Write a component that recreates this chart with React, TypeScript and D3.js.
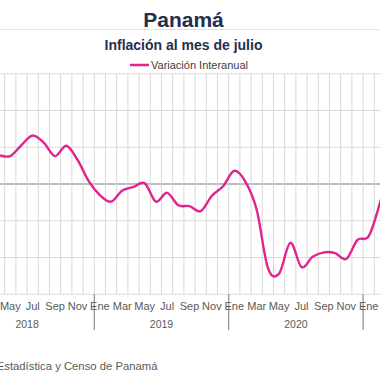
import React from "react";
import * as d3 from "d3";

const W = 380;
const H = 380;

// months from Jan 2018 (index 0)
const monthNames = ["Ene", "Feb", "Mar", "Abr", "May", "Jun", "Jul", "Ago", "Sep", "Oct", "Nov", "Dic"];
const years = [2018, 2019, 2020, 2021];
const firstDataIndex = 2; // Mar 2018
const values = [
  0.42, 0.39, 0.38, 0.53, 0.66, 0.56, 0.38, 0.52, 0.33, 0.04,
  -0.15, -0.24, -0.09, -0.04, 0.01, -0.24, -0.12, -0.29, -0.3, -0.37, -0.16, -0.03,
  0.18, 0.03, -0.35, -1.14, -1.22, -0.8, -1.13, -0.99, -0.93, -0.94, -1.02, -0.76,
  -0.71, -0.26, 0.33,
];
const yTicks = [-1.5, -1, -0.5, 0, 0.5, 1, 1.5];
const title = "Panamá";
const subtitle = "Inflación al mes de julio";
const legendLabel = "Variación Interanual";
const sourceText = "Estadística y Censo de Panamá";

const nMonths = years.length * 12;
const monthIdx = d3.range(nMonths);

export default function App() {
  const x = d3
    .scaleBand<number>()
    .domain(monthIdx)
    .range([-40.1, -40.1 + nMonths * 11.2])
    .paddingInner(0)
    .paddingOuter(0);
  const bw = x.bandwidth();
  const y = d3.scaleLinear().domain([-1.5, 1.5]).range([294.25, 73.75]);

  const pts: [number, number][] = values.map((v, i) => [
    (x(i + firstDataIndex) as number) + bw / 2,
    y(v),
  ]);
  const line = d3.line().curve(d3.curveCardinal.tension(0))(pts) || "";

  const font = "'Liberation Sans', Arial, sans-serif";
  const plotTop = y(1.5);
  const plotBottom = y(-1.5);
  const visible = (cx: number) => cx > 0 && cx < W;

  return (
    <svg
      width={W}
      height={H}
      style={{ position: "absolute", left: 0, top: 0, background: "#fff" }}
      fontFamily={font}
    >
      <rect x={0} y={0} width={W} height={H} fill="#fff" />
      <text x={183.5} y={26.5} textAnchor="middle" fontSize={21} fontWeight="bold" fill="#1f2f4d">
        {title}
      </text>
      <line x1={0} x2={W} y1={29.5} y2={29.5} stroke="#e3e3e3" strokeWidth={1} />
      <text x={183.5} y={49.5} textAnchor="middle" fontSize={14} fontWeight="bold" fill="#1f2f4d">
        {subtitle}
      </text>
      {/* legend */}
      <line x1={130} x2={149} y1={65} y2={65} stroke="#e3238d" strokeWidth={2.5} />
      <text x={151} y={68.6} fontSize={11} fill="#404040">
        {legendLabel}
      </text>

      {/* horizontal grid */}
      {yTicks.map((t) => (
        <line
          key={"h" + t}
          x1={0}
          x2={W}
          y1={y(t)}
          y2={y(t)}
          stroke={t === 0 ? "#a6a6a6" : "#d9d9d9"}
          strokeWidth={t === 0 ? 1.5 : 1}
        />
      ))}
      {/* vertical grid */}
      {monthIdx.map((m) => (
        <line
          key={"v" + m}
          x1={x(m) as number}
          x2={x(m) as number}
          y1={plotTop}
          y2={plotBottom}
          stroke="#d9d9d9"
          strokeWidth={1}
        />
      ))}
      {/* year separators */}
      {years.map((yr, i) => (
        <line
          key={"ys" + yr}
          x1={x(i * 12) as number}
          x2={x(i * 12) as number}
          y1={plotBottom}
          y2={330}
          stroke="#8c8c8c"
          strokeWidth={1.2}
        />
      ))}
      {/* month labels */}
      {monthIdx
        .filter((m) => m % 2 === 0 && visible((x(m) as number) + bw / 2))
        .map((m) => (
          <text
            key={"ml" + m}
            x={(x(m) as number) + bw / 2}
            y={309.5}
            textAnchor="middle"
            fontSize={11}
            fill="#595959"
          >
            {monthNames[m % 12]}
          </text>
        ))}
      {/* year labels */}
      {years
        .map((yr, i) => ({ yr, cx: (x(i * 12) as number) + bw * 6 }))
        .filter((d) => visible(d.cx))
        .map((d) => (
          <text
            key={"yl" + d.yr}
            x={d.cx}
            y={328}
            textAnchor="middle"
            fontSize={10.5}
            fill="#595959"
          >
            {d.yr}
          </text>
        ))}

      <path d={line} fill="none" stroke="#e3238d" strokeWidth={2.4} strokeLinejoin="round" />

      <text x={157.5} y={369.5} textAnchor="end" fontSize={11.3} fill="#595959">
        {sourceText}
      </text>
    </svg>
  );
}
